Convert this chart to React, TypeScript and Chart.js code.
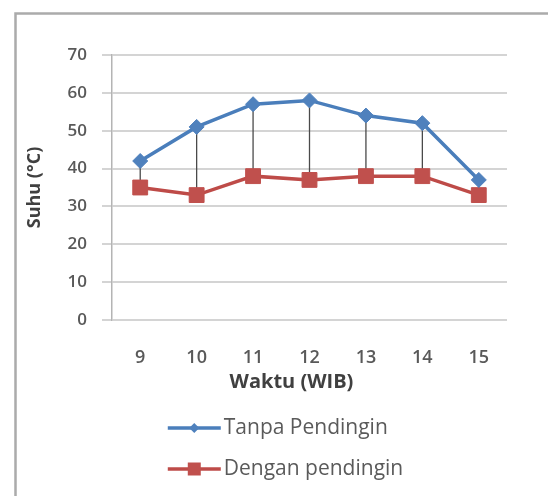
import { useEffect, useRef } from "react";
import { Chart, registerables } from "chart.js";

Chart.register(...registerables);

// Hour of day (WIB)
const hours = ["9", "10", "11", "12", "13", "14", "15"];
// Temperature without cooler (°C)
const tanpaPendingin = [42, 51, 57, 58, 54, 52, 37];
// Temperature with cooler (°C)
const denganPendingin = [35, 33, 38, 37, 38, 38, 33];
const seriesNames = ["Tanpa Pendingin", "Dengan pendingin"];
const yMin = 0;
const yMax = 70;
const yStep = 10;
const xTitle = "Waktu (WIB)";
const yTitle = "Suhu (°C)";

const FONT = "'Open Sans', 'Liberation Sans', sans-serif";
const BLUE_LINE = "#4A7EBB";
const BLUE_MARK = "#4F81BD";
const RED_LINE = "#BE4B48";
const RED_MARK = "#C0504D";

// White page with the grey frame along the top and left edges
const framePlugin = {
  id: "frame",
  beforeDraw(chart: any) {
    const { ctx, width, height } = chart;
    ctx.save();
    ctx.fillStyle = "#ffffff";
    ctx.fillRect(0, 0, width, height);
    ctx.strokeStyle = "#ABABAB";
    ctx.lineWidth = 2.5;
    ctx.beginPath();
    ctx.moveTo(15.5, height);
    ctx.lineTo(15.5, 13.5);
    ctx.lineTo(width, 13.5);
    ctx.stroke();
    ctx.restore();
  },
};

// Vertical high-low lines joining the two series at every hour
const hiLoPlugin = {
  id: "hiLo",
  beforeDatasetsDraw(chart: any) {
    const a = chart.getDatasetMeta(0).data;
    const b = chart.getDatasetMeta(1).data;
    const ctx = chart.ctx;
    ctx.save();
    ctx.strokeStyle = "#4a4a4a";
    ctx.lineWidth = 1.3;
    a.forEach((p: any, i: number) => {
      const q = b[i];
      if (!q) return;
      ctx.beginPath();
      ctx.moveTo(p.x, p.y);
      ctx.lineTo(q.x, q.y);
      ctx.stroke();
    });
    ctx.restore();
  },
};

function drawMarker(ctx: CanvasRenderingContext2D, style: string, x: number, y: number, r: number, fill: string) {
  ctx.beginPath();
  if (style === "rectRot") {
    ctx.moveTo(x, y - r);
    ctx.lineTo(x + r, y);
    ctx.lineTo(x, y + r);
    ctx.lineTo(x - r, y);
    ctx.closePath();
  } else {
    ctx.rect(x - r, y - r, 2 * r, 2 * r);
  }
  ctx.fillStyle = fill;
  ctx.fill();
}

// x-axis title and the stacked legend underneath it
const captionPlugin = {
  id: "captions",
  afterDraw(chart: any) {
    const ctx = chart.ctx as CanvasRenderingContext2D;
    const area = chart.chartArea;
    const cx = (area.left + area.right) / 2 - 18;
    ctx.save();
    ctx.textBaseline = "middle";
    ctx.textAlign = "center";
    ctx.fillStyle = "#404040";
    ctx.font = `bold 20px ${FONT}`;
    ctx.fillText(xTitle, cx, area.bottom + 62);

    ctx.font = `21px ${FONT}`;
    ctx.textAlign = "left";
    const lineLen = 53;
    const gap = 3;
    const widths = chart.data.datasets.map((ds: any) => ctx.measureText(ds.label).width);
    const maxW = Math.max(...widths) + lineLen + gap;
    const x0 = cx - 6 - maxW / 2;
    const rowY = [area.bottom + 108, area.bottom + 149];
    chart.data.datasets.forEach((ds: any, i: number) => {
      const y = rowY[i];
      ctx.strokeStyle = ds.borderColor;
      ctx.lineWidth = 3.5;
      ctx.beginPath();
      ctx.moveTo(x0, y);
      ctx.lineTo(x0 + lineLen, y);
      ctx.stroke();
      const mr = ds.pointStyle === "rectRot" ? 5 : 6.5;
      drawMarker(ctx, ds.pointStyle, x0 + lineLen / 2, y, mr, ds.pointBackgroundColor);
      ctx.fillStyle = "#5a5a5a";
      ctx.fillText(ds.label, x0 + lineLen + gap, y);
    });
    ctx.restore();
  },
};

export default function App() {
  const canvasRef = useRef<HTMLCanvasElement | null>(null);

  useEffect(() => {
    const canvas = canvasRef.current;
    if (!canvas) return;
    const chart = new Chart(canvas, {
      type: "line",
      data: {
        labels: hours,
        datasets: [
          {
            label: seriesNames[0],
            data: tanpaPendingin,
            borderColor: BLUE_LINE,
            borderWidth: 3.5,
            pointStyle: "rectRot",
            pointRadius: 7.5,
            pointBackgroundColor: BLUE_MARK,
            pointBorderColor: BLUE_MARK,
            pointBorderWidth: 1,
            tension: 0,
          },
          {
            label: seriesNames[1],
            data: denganPendingin,
            borderColor: RED_LINE,
            borderWidth: 3.5,
            pointStyle: "rect",
            pointRadius: 10.5,
            pointBackgroundColor: RED_MARK,
            pointBorderColor: RED_MARK,
            pointBorderWidth: 1,
            tension: 0,
          },
        ],
      },
      options: {
        responsive: false,
        animation: false,
        layout: { padding: { top: 55, right: 41, bottom: 116, left: 0 } },
        plugins: {
          legend: { display: false },
          tooltip: { enabled: false },
        },
        scales: {
          x: {
            offset: true,
            grid: { display: false, drawTicks: false },
            border: { display: false },
            ticks: {
              padding: 27,
              color: "#595959",
              font: { family: FONT, size: 18, weight: "600" },
            },
            afterFit(scale: any) {
              scale.height = 60;
            },
          },
          y: {
            min: yMin,
            max: yMax,
            ticks: {
              stepSize: yStep,
              padding: 15,
              color: "#595959",
              font: { family: FONT, size: 17, weight: "600" },
            },
            grid: {
              color: "#D4D4D4",
              lineWidth: 2,
              tickLength: 10,
            },
            border: { display: true, color: "#B4B4B4", width: 1.5 },
            title: {
              display: true,
              text: yTitle,
              color: "#404040",
              font: { family: FONT, size: 18, weight: "bold" },
              padding: { top: 24, bottom: 0 },
            },
            afterFit(scale: any) {
              scale.width = 112;
            },
          },
        },
      },
      plugins: [framePlugin, hiLoPlugin, captionPlugin],
    } as any);
    return () => chart.destroy();
  }, []);

  return (
    <div style={{ position: "absolute", left: 0, top: 0, width: 548, height: 496 }}>
      <canvas ref={canvasRef} width={548} height={496} style={{ display: "block" }} />
    </div>
  );
}
